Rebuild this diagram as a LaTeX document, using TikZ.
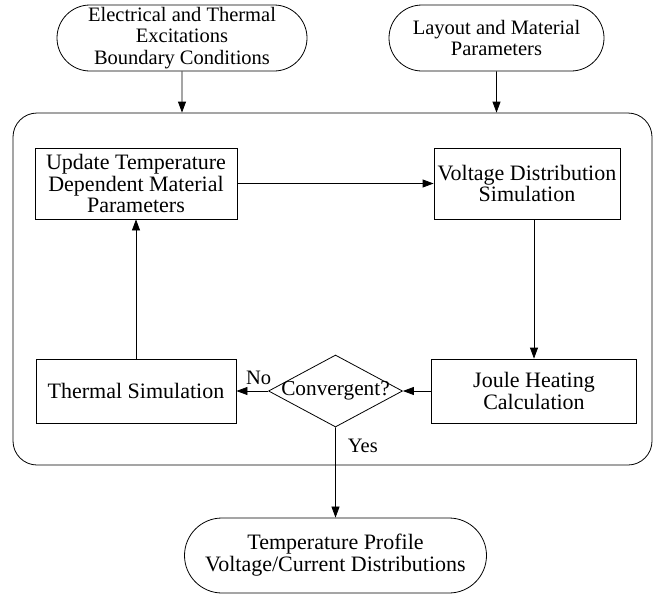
\documentclass[tikz,border=0pt]{standalone}
\usepackage{fontspec}
\setmainfont{Liberation Serif}
\usetikzlibrary{arrows.meta, positioning, shapes.geometric, shapes.misc}

\begin{document}
\begin{tikzpicture}[
    x=1pt, y=-1pt,
    >={Triangle[length=11pt,width=8pt]},
    line width=0.8pt,
    every node/.style={
        text centered,
        align=center,
        inner sep=0pt,
        font=\fontsize{20.5}{21.5}\selectfont
    },
    proc/.style={rectangle, draw, font=\fontsize{22}{21.8}\selectfont},
    term/.style={rounded rectangle, draw},
    decide/.style={diamond, draw, font=\fontsize{21.3}{21.8}\selectfont}
]
\useasboundingbox (0,0) rectangle (654,595);

% Container
\node (loop) [draw, rounded corners=24pt, minimum width=639pt, minimum height=352pt] at (332.5,289) {};

% Nodes
\node (elec)   [term, minimum width=250pt, minimum height=66pt] at (182,38)
    {Electrical and Thermal\\Excitations\\Boundary Conditions};
\node (layout) [term, minimum width=215pt, minimum height=66pt] at (496.5,38)
    {Layout and Material\\Parameters};
\node (update) [proc, minimum width=202pt, minimum height=71pt] at (136,183.5)
    {Update Temperature\\Dependent Material\\Parameters};
\node (volt)   [proc, minimum width=186pt, minimum height=71pt] at (527,183.5)
    {Voltage Distribution\\Simulation};
\node (therm)  [proc, minimum width=200pt, minimum height=64pt] at (136,391)
    {Thermal Simulation};
\node (conv)   [decide, minimum width=134pt, minimum height=72pt] at (335.5,391)
    {\makebox[0pt]{Convergent?}};
\node (joule)  [proc, minimum width=205pt, minimum height=64pt] at (534,391)
    {Joule Heating\\Calculation};
\node (result) [term, minimum width=302pt, minimum height=75pt, font=\fontsize{22}{22}\selectfont] at (335.5,555.5)
    {Temperature Profile\\Voltage/Current Distributions};

% Edges
\draw[->] (elec) -- (elec |- loop.north);
\draw[->] (layout) -- (layout |- loop.north);
\draw[->] (update) -- (volt);
\draw[->] (volt.south -| joule.north) -- (joule);
\draw[->] (joule) -- (conv);
\draw[->] (conv) -- (therm)
    node[pos=0.3, above=6pt]{No};
\draw[->] (therm) -- (update);
\draw[->] (conv) -- (result)
    node[pos=0.2, right=12pt]{Yes};

\end{tikzpicture}
\end{document}
